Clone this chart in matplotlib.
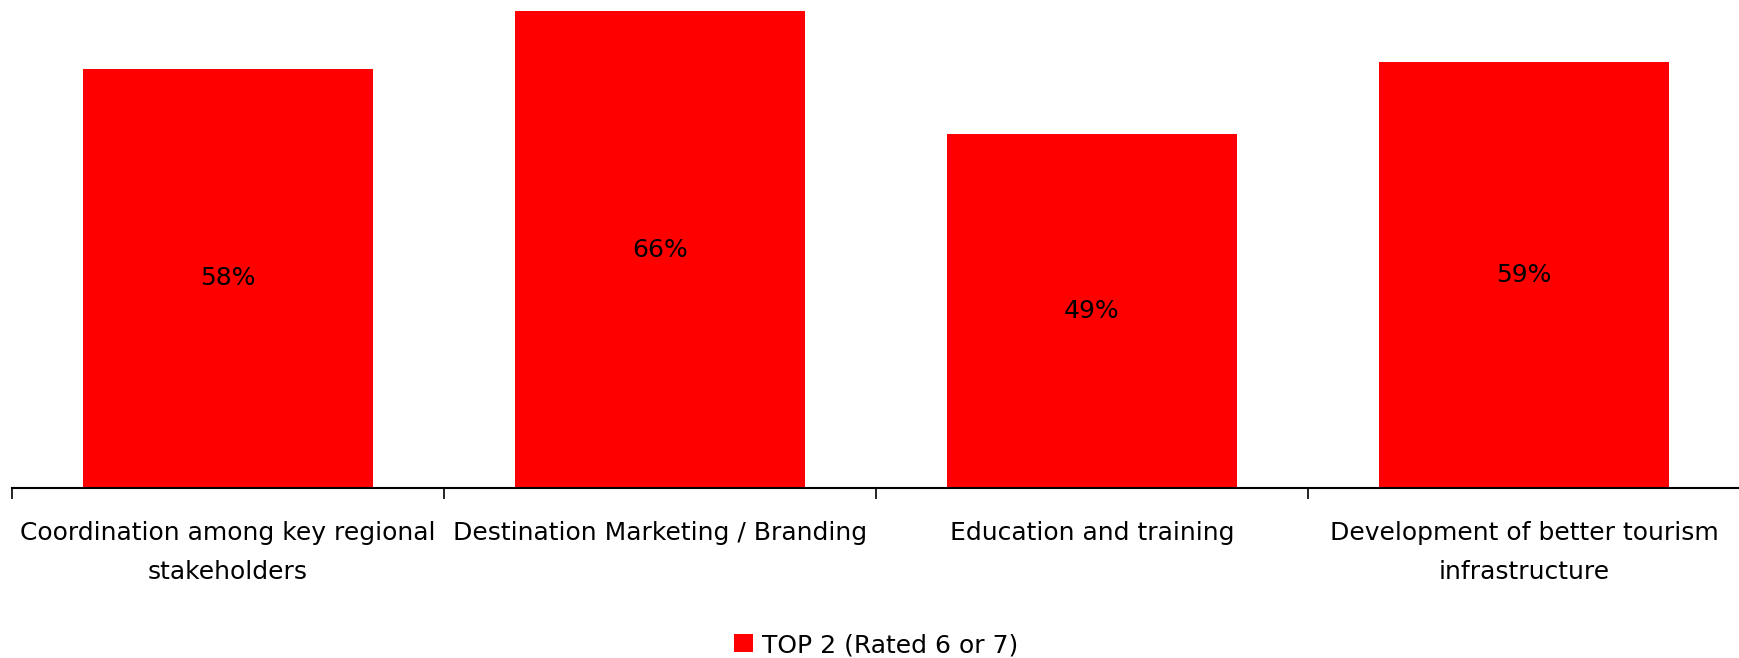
import matplotlib
matplotlib.use("Agg")
import matplotlib.pyplot as plt
import numpy as np

categories = ["Coordination among key regional\nstakeholders",
              "Destination Marketing / Branding",
              "Education and training",
              "Development of better tourism\ninfrastructure"]
values = [0.58, 0.66, 0.49, 0.59]
series_name = "TOP 2 (Rated 6 or 7)"

plt.rcParams['font.family'] = ['DejaVu Sans']
fs = 18

fig = plt.figure(figsize=(17.4, 6.58), dpi=100)
ax = fig.add_axes([12 / 1740, 170 / 658, 1 - 12 / 1740, 488 / 658])

x = np.arange(len(categories))
bars = ax.bar(x, values, width=0.67, color="#ff0000", label=series_name)

for xi, v in zip(x, values):
    ax.text(xi, v / 2, f"{v * 100:.0f}%", ha="center", va="center", fontsize=fs, color="black")

ax.set_xlim(-0.5, len(categories) - 0.5)
ax.set_ylim(0, 0.66 * 488 / 477)
ax.set_xticks(x)
ax.set_xticklabels(categories, fontsize=fs, linespacing=1.75)
ax.set_xticks(np.arange(len(categories) + 1) - 0.5, minor=True)
ax.tick_params(axis="x", which="major", length=0, pad=24)
ax.tick_params(axis="x", which="minor", length=8, width=1.2, direction="out")
ax.set_yticks([])
for s in ["top", "right", "left"]:
    ax.spines[s].set_visible(False)
ax.spines["bottom"].set_linewidth(1.5)

fig.legend(handles=[bars], labels=[series_name], loc="center",
           bbox_to_anchor=(876 / 1740, 1 - 645 / 658), frameon=False,
           fontsize=fs, handlelength=0.75, handleheight=0.75, handletextpad=0.35)

fig.savefig("out.png", dpi=100)
